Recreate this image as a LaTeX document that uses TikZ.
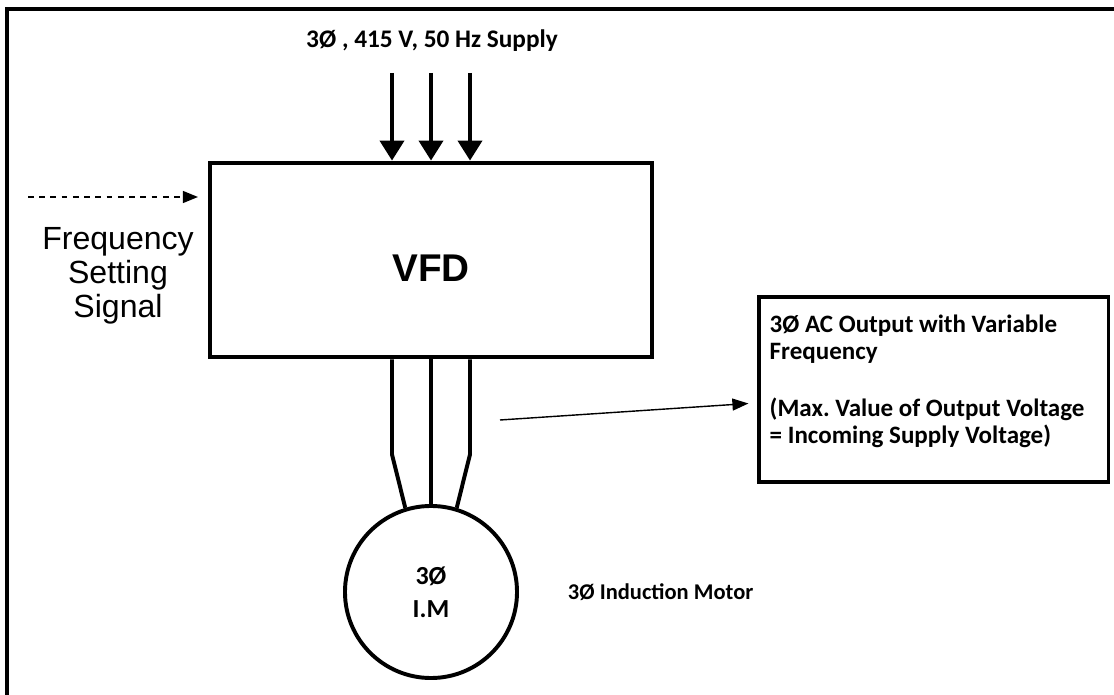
\documentclass[tikz,border=0pt]{standalone}
\usepackage{fontspec}
\setmainfont{Carlito}
\newfontfamily\arialfont{Liberation Sans}
\usepackage{tikz}
\usetikzlibrary{arrows.meta,positioning,calc}
\frenchspacing

\begin{document}
\begin{tikzpicture}[
  x=0.025cm,y=-0.025cm,
  font=\fontsize{16}{19}\selectfont\bfseries,
  node distance=1.1cm,
  vfdbox/.style={draw,line width=3.4pt,minimum width=11.05cm,minimum height=4.85cm},
  motor/.style={draw,circle,line width=2.8pt,minimum size=4.3cm,inner sep=0pt,
                align=center,font=\fontsize{18.5}{23.5}\selectfont\bfseries},
  outbox/.style={draw,line width=2.2pt,minimum width=8.725cm,minimum height=4.625cm},
  supply/.style={-{Triangle[length=5mm,width=6mm]},line width=2.8pt},
  feed/.style={line width=2.8pt,line join=miter},
  sig/.style={-{Triangle[length=3.8mm,width=3mm]},line width=1.1pt,dash pattern=on 4pt off 4pt},
  outarr/.style={-{Triangle[length=4mm,width=3mm]},line width=1pt}
]
\useasboundingbox (0,0) rectangle (1114,695);
\draw[line width=2.2pt] (7,695) -- (7,9) -- (1114,9);

\node[vfdbox] (vfd) at (431,260) {};
\node[font=\fontsize{27.5}{30}\selectfont\arialfont\bfseries] (vfdlbl) at (431,268) {VFD};
\node[motor] (im) at (431,592) {3Ø\\I.M};
\node[right=of im] (imlbl) {3Ø Induction Motor};
\node[outbox] (out) at (933.5,389.5) {};
\node[anchor=north west,align=left,inner sep=0pt,font=\fontsize{17.8}{19.3}\selectfont\bfseries]
  (outtxt) at ([shift={(12,19)}]out.north west)
  {3Ø AC Output with Variable\\Frequency\\[21pt](Max. Value of Output Voltage\\= Incoming Supply Voltage)};

% supply in
\node[font=\fontsize{18}{21}\selectfont\bfseries] (supplylbl) at (432,41) {3Ø , 415 V, 50 Hz Supply};
\foreach \sx [count=\i] in {392,431,470}
  \coordinate (t\i) at (\sx,73);
\draw[supply] (t1) -- (t1 |- vfd.north);
\draw[supply] (t2) -- (t2 |- vfd.north);
\draw[supply] (t3) -- (t3 |- vfd.north);

% frequency setting signal
\node[font=\fontsize{22.8}{24.3}\selectfont\arialfont,align=center] (freq) at (118,276) {Frequency\\Setting\\Signal};
\coordinate (fs) at (28,197);
\coordinate (fe) at (198,197);
\draw[sig] (fs) -- (fe);

% three phase feed to the motor
\coordinate (s1) at ($(vfd.south)+(-39,0)$);
\coordinate (s2) at (vfd.south);
\coordinate (s3) at ($(vfd.south)+(39,0)$);
\draw[feed] (s1) -- ++(0,95) -- (im.107);
\draw[feed] (s2) -- (im.north);
\draw[feed] (s3) -- ++(0,95) -- (im.73);

% output callout
\coordinate (oa) at (500,420);
\draw[outarr] (oa) -- ($(out.west)+(-9,14)$);
\end{tikzpicture}
\end{document}
